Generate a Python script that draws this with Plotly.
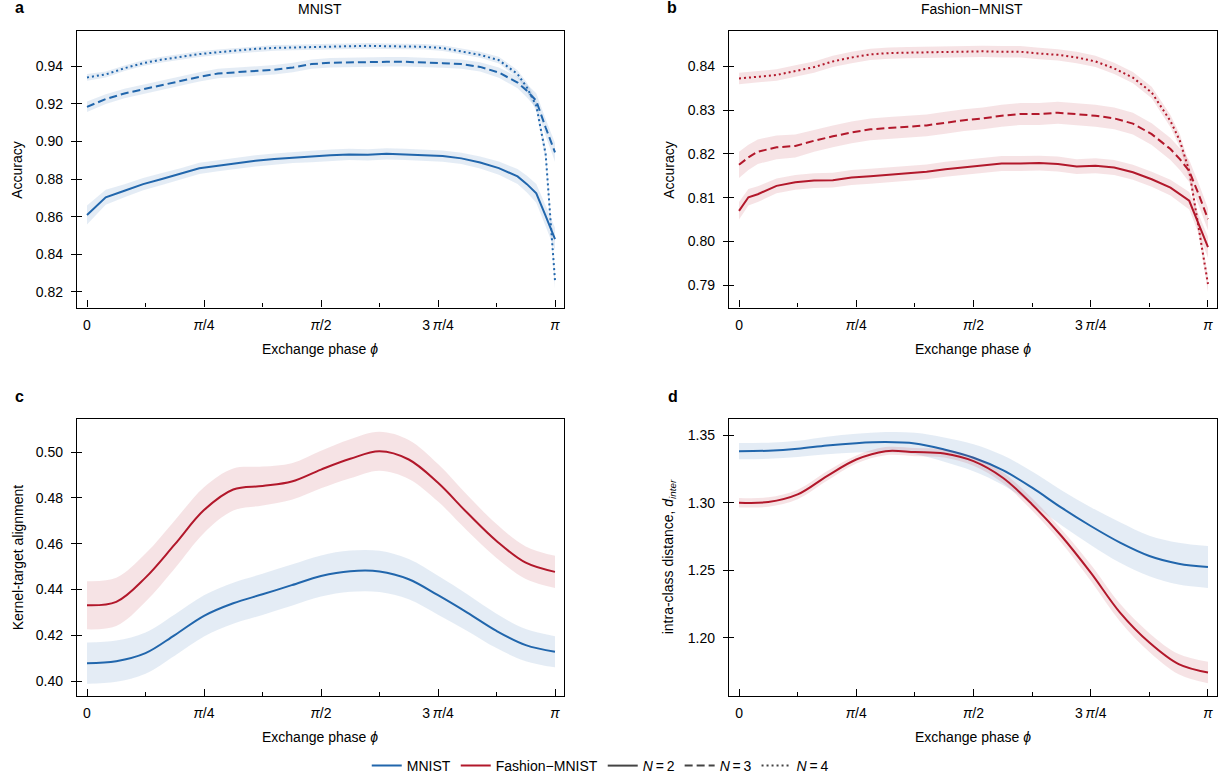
import numpy as np
import plotly.graph_objects as go

PI = np.pi
W, H = 1225, 782

# ---------------- data ----------------
# Panels a/b: sample positions as fractions of pi
phi_frac_acc = [0, 0.02, 0.04, 0.08, 0.12, 0.16, 0.20, 0.24, 0.28, 0.32, 0.36, 0.40,
                0.44, 0.48, 0.52, 0.56, 0.60, 0.64, 0.68, 0.72, 0.76, 0.80, 0.84, 0.88,
                0.92, 0.94, 0.96, 0.98, 1.0]

mnist_acc_n2 = [0.8609, 0.8658, 0.8703, 0.8738, 0.8773, 0.8800, 0.8827, 0.8857, 0.8871, 0.8885,
                0.8897, 0.8906, 0.8915, 0.8920, 0.8927, 0.8931, 0.8929, 0.8934, 0.8931, 0.8927,
                0.8922, 0.8910, 0.8888, 0.8858, 0.8814, 0.8773, 0.8724, 0.8604, 0.8481]
mnist_acc_n3 = [0.9184, 0.9205, 0.9225, 0.9255, 0.9278, 0.9299, 0.9322, 0.9343, 0.9361, 0.9368,
                0.9375, 0.9381, 0.9393, 0.9411, 0.9418, 0.9421, 0.9423, 0.9423, 0.9423, 0.9421,
                0.9416, 0.9411, 0.9396, 0.9366, 0.9313, 0.9269, 0.9216, 0.9074, 0.8942]
mnist_acc_n4 = [0.9340, 0.9347, 0.9356, 0.9389, 0.9416, 0.9435, 0.9450, 0.9464, 0.9474, 0.9483,
                0.9492, 0.9497, 0.9499, 0.9503, 0.9504, 0.9506, 0.9508, 0.9506, 0.9504, 0.9503,
                0.9496, 0.9478, 0.9460, 0.9432, 0.9358, 0.9287, 0.9189, 0.8933, 0.8260]
mnist_acc_n2_std = [0.0050, 0.0045, 0.0040, 0.0035, 0.0033, 0.0032, 0.0030, 0.0030, 0.0030, 0.0030,
                    0.0030, 0.0030, 0.0030, 0.0030, 0.0030, 0.0030, 0.0030, 0.0030, 0.0030, 0.0030,
                    0.0030, 0.0030, 0.0032, 0.0035, 0.0040, 0.0045, 0.0050, 0.0055, 0.0060]
mnist_acc_n3_std = [0.0028, 0.0027, 0.0026, 0.0025, 0.0025, 0.0025, 0.0025, 0.0025, 0.0025, 0.0025,
                    0.0025, 0.0025, 0.0025, 0.0025, 0.0025, 0.0025, 0.0025, 0.0025, 0.0025, 0.0025,
                    0.0025, 0.0025, 0.0025, 0.0027, 0.0030, 0.0035, 0.0040, 0.0045, 0.0050]
mnist_acc_n4_std = [0.0018, 0.0017, 0.0016, 0.0015, 0.0015, 0.0015, 0.0015, 0.0015, 0.0015, 0.0015,
                    0.0015, 0.0015, 0.0015, 0.0015, 0.0015, 0.0015, 0.0015, 0.0015, 0.0015, 0.0015,
                    0.0015, 0.0015, 0.0016, 0.0018, 0.0020, 0.0025, 0.0030, 0.0035, 0.0040]

fashion_acc_n2 = [0.8070, 0.8101, 0.8108, 0.8127, 0.8135, 0.8139, 0.8140, 0.8146, 0.8149, 0.8152,
                  0.8155, 0.8159, 0.8165, 0.8169, 0.8174, 0.8178, 0.8178, 0.8179, 0.8177, 0.8171,
                  0.8173, 0.8169, 0.8158, 0.8142, 0.8123, 0.8108, 0.8093, 0.8040, 0.7987]
fashion_acc_n3 = [0.8175, 0.8192, 0.8205, 0.8215, 0.8218, 0.8230, 0.8240, 0.8249, 0.8256, 0.8259,
                  0.8262, 0.8265, 0.8271, 0.8277, 0.8281, 0.8287, 0.8291, 0.8291, 0.8294, 0.8291,
                  0.8287, 0.8281, 0.8269, 0.8245, 0.8211, 0.8188, 0.8161, 0.8108, 0.8051]
fashion_acc_n4 = [0.8372, 0.8374, 0.8376, 0.8380, 0.8389, 0.8398, 0.8411, 0.8420, 0.8427, 0.8430,
                  0.8431, 0.8432, 0.8433, 0.8433, 0.8434, 0.8433, 0.8433, 0.8429, 0.8426, 0.8420,
                  0.8411, 0.8395, 0.8374, 0.8340, 0.8275, 0.8230, 0.8161, 0.8032, 0.7903]
fashion_acc_n2_std = [0.0020, 0.0019, 0.0018, 0.0017, 0.0017, 0.0017, 0.0017, 0.0017, 0.0017, 0.0017,
                      0.0017, 0.0017, 0.0017, 0.0017, 0.0017, 0.0017, 0.0017, 0.0017, 0.0017, 0.0017,
                      0.0017, 0.0017, 0.0017, 0.0017, 0.0018, 0.0019, 0.0020, 0.0022, 0.0024]
fashion_acc_n3_std = [0.0030, 0.0029, 0.0028, 0.0027, 0.0026, 0.0025, 0.0025, 0.0025, 0.0025, 0.0025,
                      0.0025, 0.0025, 0.0025, 0.0025, 0.0025, 0.0025, 0.0025, 0.0025, 0.0025, 0.0025,
                      0.0025, 0.0025, 0.0025, 0.0025, 0.0025, 0.0025, 0.0025, 0.0025, 0.0025]
fashion_acc_n4_std = [0.0013, 0.0013, 0.0013, 0.0013, 0.0013, 0.0013, 0.0013, 0.0013, 0.0013, 0.0013,
                      0.0013, 0.0013, 0.0013, 0.0013, 0.0013, 0.0013, 0.0013, 0.0013, 0.0013, 0.0013,
                      0.0013, 0.0013, 0.0013, 0.0013, 0.0014, 0.0015, 0.0016, 0.0017, 0.0018]

# Panels c/d: sample positions as fractions of pi
phi_frac_kernel = [0, 1/16, 2/16, 3/16, 4/16, 5/16, 6/16, 7/16, 8/16,
                   9/16, 10/16, 11/16, 12/16, 13/16, 14/16, 15/16, 1.0]

kta_mnist = [0.4078, 0.4087, 0.4122, 0.4201, 0.4285, 0.4340, 0.4379, 0.4419, 0.4459,
             0.4480, 0.4479, 0.4445, 0.4375, 0.4299, 0.4219, 0.4157, 0.4128]
kta_mnist_std = [0.0090, 0.0090, 0.0090, 0.0090, 0.0090, 0.0090, 0.0090, 0.0090, 0.0090,
                 0.0090, 0.0090, 0.0088, 0.0085, 0.0080, 0.0075, 0.0070, 0.0068]
kta_fashion = [0.4331, 0.4346, 0.4452, 0.4597, 0.4747, 0.4837, 0.4852, 0.4872, 0.4924,
               0.4971, 0.5004, 0.4968, 0.4866, 0.4735, 0.4612, 0.4517, 0.4477]
kta_fashion_std = [0.0105, 0.0105, 0.0105, 0.0105, 0.0100, 0.0092, 0.0085, 0.0080, 0.0082,
                   0.0085, 0.0085, 0.0085, 0.0082, 0.0078, 0.0074, 0.0071, 0.0070]

dist_mnist = [1.3384, 1.3387, 1.3401, 1.3426, 1.3443, 1.3451, 1.3441, 1.3396, 1.3335,
              1.3243, 1.3113, 1.2965, 1.2829, 1.2706, 1.2607, 1.2550, 1.2525]
dist_mnist_std = [0.0060, 0.0060, 0.0060, 0.0065, 0.0070, 0.0075, 0.0080, 0.0090, 0.0100,
                  0.0110, 0.0120, 0.0130, 0.0140, 0.0150, 0.0150, 0.0155, 0.0155]
dist_fashion = [1.3002, 1.3007, 1.3063, 1.3199, 1.3322, 1.3384, 1.3377, 1.3367, 1.3310,
                1.3187, 1.2989, 1.2755, 1.2483, 1.2187, 1.1965, 1.1805, 1.1743]
dist_fashion_std = [0.0035, 0.0035, 0.0035, 0.0035, 0.0030, 0.0030, 0.0030, 0.0030, 0.0035,
                    0.0040, 0.0045, 0.0050, 0.0060, 0.0065, 0.0070, 0.0075, 0.0080]

x_tick_frac = [0, 0.25, 0.5, 0.75, 1.0]
x_tick_text = ["0", "<i>π</i>/4", "<i>π</i>/2", "3\u2009<i>π</i>/4", "<i>π</i>"]
x_minor_frac = [0.125, 0.375, 0.625, 0.875]

# ---------------- style ----------------
BLUE = "#2166ac"
RED = "#b2182b"
BLUE_BAND = "rgba(33,102,172,0.12)"
RED_BAND = "rgba(178,24,43,0.12)"
FONT = "Liberation Sans, Arial, Helvetica, sans-serif"
DASH = {"solid": "solid", "dash": "8px,4px", "dot": "2px,3px"}

fig = go.Figure()


def add_series(xf, y, s, color, band, dash, xa, ya, shape="linear"):
    x = np.array(xf) * PI
    y = np.array(y)
    s = np.array(s)
    fig.add_trace(go.Scatter(x=x, y=y - s, mode="lines", line=dict(width=0, shape=shape),
                             showlegend=False, hoverinfo="skip", xaxis=xa, yaxis=ya))
    fig.add_trace(go.Scatter(x=x, y=y + s, mode="lines", line=dict(width=0, shape=shape),
                             fill="tonexty", fillcolor=band, showlegend=False,
                             hoverinfo="skip", xaxis=xa, yaxis=ya))
    fig.add_trace(go.Scatter(x=x, y=y, mode="lines",
                             line=dict(color=color, width=2, dash=DASH[dash], shape=shape),
                             showlegend=False, xaxis=xa, yaxis=ya))


# panel a
add_series(phi_frac_acc, mnist_acc_n2, mnist_acc_n2_std, BLUE, BLUE_BAND, "solid", "x", "y")
add_series(phi_frac_acc, mnist_acc_n3, mnist_acc_n3_std, BLUE, BLUE_BAND, "dash", "x", "y")
add_series(phi_frac_acc, mnist_acc_n4, mnist_acc_n4_std, BLUE, BLUE_BAND, "dot", "x", "y")
# panel b
add_series(phi_frac_acc, fashion_acc_n2, fashion_acc_n2_std, RED, RED_BAND, "solid", "x2", "y2")
add_series(phi_frac_acc, fashion_acc_n3, fashion_acc_n3_std, RED, RED_BAND, "dash", "x2", "y2")
add_series(phi_frac_acc, fashion_acc_n4, fashion_acc_n4_std, RED, RED_BAND, "dot", "x2", "y2")
# panel c
add_series(phi_frac_kernel, kta_fashion, kta_fashion_std, RED, RED_BAND, "solid", "x3", "y3", "spline")
add_series(phi_frac_kernel, kta_mnist, kta_mnist_std, BLUE, BLUE_BAND, "solid", "x3", "y3", "spline")
# panel d
add_series(phi_frac_kernel, dist_mnist, dist_mnist_std, BLUE, BLUE_BAND, "solid", "x4", "y4", "spline")
add_series(phi_frac_kernel, dist_fashion, dist_fashion_std, RED, RED_BAND, "solid", "x4", "y4", "spline")

# legend entries
legend_items = [("MNIST", BLUE, "solid"), ("Fashion\u2212MNIST", RED, "solid"),
                ("<i>N</i>\u2009=\u20092", "#444444", "solid"),
                ("<i>N</i>\u2009=\u20093", "#444444", "dash"),
                ("<i>N</i>\u2009=\u20094", "#444444", "dot")]
for name, col, d in legend_items:
    fig.add_trace(go.Scatter(x=[None], y=[None], mode="lines", name=name,
                             line=dict(color=col, width=2, dash=DASH[d]), xaxis="x", yaxis="y"))


def px_x(p):
    return p / W


def px_y(p):
    return 1 - p / H


x_left_dom = [px_x(77), px_x(564)]
x_right_dom = [px_x(729), px_x(1217)]
y_top_dom = [px_y(308), px_y(31)]
y_bot_dom = [px_y(697.3), px_y(419.3)]
x_range = [-10 / 468 * PI, PI + 9 / 468 * PI]

common_axis = dict(showline=True, linecolor="black", linewidth=1.3, mirror=True,
                   showgrid=False, zeroline=False, tickcolor="black", tickwidth=1,
                   tickfont=dict(family=FONT, size=14, color="black"))


def xaxis(dom, anchor):
    return dict(common_axis, domain=dom, anchor=anchor, range=x_range,
                tickmode="array", tickvals=[f * PI for f in x_tick_frac], ticktext=x_tick_text,
                ticks="inside", ticklen=7, ticklabelstandoff=4,
                minor=dict(tickmode="array", tickvals=[f * PI for f in x_minor_frac],
                           ticks="inside", ticklen=4, tickcolor="black", tickwidth=1))


def yaxis(dom, anchor, rng, vals, fmt):
    return dict(common_axis, domain=dom, anchor=anchor, range=rng,
                tickmode="array", tickvals=vals, ticktext=[fmt.format(v) for v in vals],
                ticks="outside", ticklen=5, ticklabelstandoff=5,
                minor=dict(tickmode="array", tickvals=vals, ticks="inside", ticklen=5,
                           tickcolor="black", tickwidth=1))


fig.update_layout(
    width=W, height=H, margin=dict(l=0, r=0, t=0, b=0),
    paper_bgcolor="white", plot_bgcolor="white",
    font=dict(family=FONT, size=14, color="black"),
    xaxis=xaxis(x_left_dom, "y"),
    yaxis=yaxis(y_top_dom, "x", [0.8117, 0.9587], [0.82, 0.84, 0.86, 0.88, 0.90, 0.92, 0.94], "{:.2f}"),
    xaxis2=xaxis(x_right_dom, "y2"),
    yaxis2=yaxis(y_top_dom, "x2", [0.78492, 0.84805], [0.79, 0.80, 0.81, 0.82, 0.83, 0.84], "{:.2f}"),
    xaxis3=xaxis(x_left_dom, "y3"),
    yaxis3=yaxis(y_bot_dom, "x3", [0.3933, 0.5146], [0.40, 0.42, 0.44, 0.46, 0.48, 0.50], "{:.2f}"),
    xaxis4=xaxis(x_right_dom, "y4"),
    yaxis4=yaxis(y_bot_dom, "x4", [1.1566, 1.3624], [1.20, 1.25, 1.30, 1.35], "{:.2f}"),
    legend=dict(orientation="h", x=0.49, xanchor="center", y=px_y(766.5), yanchor="middle",
                font=dict(family=FONT, size=14, color="black"), bgcolor="rgba(0,0,0,0)",
                itemwidth=30, tracegroupgap=0, traceorder="normal"),
    showlegend=True,
)

ann = []


def text(x, y, s, size=14, angle=0):
    ann.append(dict(x=px_x(x), y=px_y(y), xref="paper", yref="paper", text=s,
                    showarrow=False, textangle=angle, xanchor="center", yanchor="middle",
                    font=dict(family=FONT, size=size, color="black")))


text(19, 8, "<b>a</b>", 16)
text(320, 9, "MNIST")
text(672, 8, "<b>b</b>", 16)
text(972, 9, "Fashion\u2212MNIST")
text(19, 397, "<b>c</b>", 16)
text(673, 397, "<b>d</b>", 16)
text(17, 170, "Accuracy", angle=-90)
text(669, 170, "Accuracy", angle=-90)
text(18, 558, "Kernel-target alignment", angle=-90)
text(669, 558, "intra-class distance, <i>d</i><sub><i>inter</i></sub>", angle=-90)
text(320.5, 349, "Exchange phase <i>ϕ</i>")
text(973, 349, "Exchange phase <i>ϕ</i>")
text(320.5, 738, "Exchange phase <i>ϕ</i>")
text(973, 738, "Exchange phase <i>ϕ</i>")
fig.update_layout(annotations=ann)

fig.write_html("out.html", config={"displayModeBar": False},
               post_script="document.body.style.margin='0';document.body.style.padding='0';")
